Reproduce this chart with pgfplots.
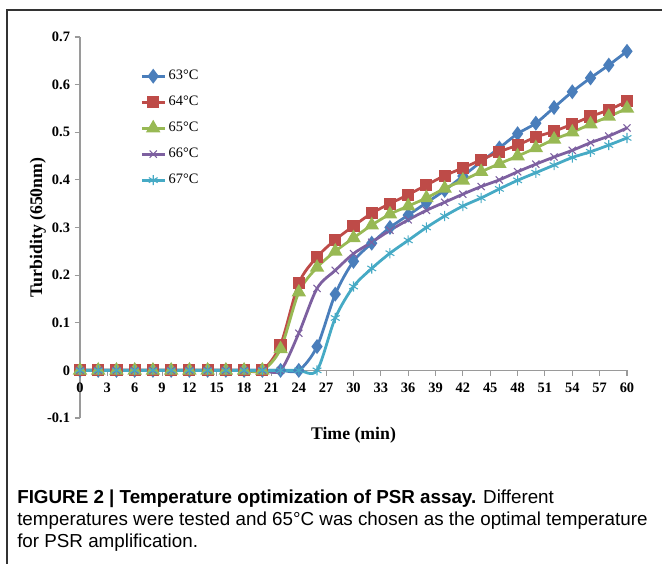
\documentclass[border=0pt]{standalone}
\usepackage{fontspec}
\setmainfont{Liberation Serif}
\newfontfamily\capfont{Liberation Sans}
\usepackage{pgfplots}
\usepackage{pgfplotstable}
\pgfplotsset{compat=1.18}
\definecolor{cA}{HTML}{4A7EBB}
\definecolor{cB}{HTML}{BE4B48}
\definecolor{cC}{HTML}{98B954}
\definecolor{cD}{HTML}{7D60A0}
\definecolor{cE}{HTML}{46AAC5}
\definecolor{axgray}{HTML}{9A9A9A}
\pgfplotstableread{
t  a     b     c     d     e
0  0     0     0     0     0
2  0     0     0     0     0
4  0     0     0     0     0
6  0     0     0     0     0
8  0     0     0     0     0
10 0     0     0     0     0
12 0     0     0     0     0
14 0     0     0     0     0
16 0     0     0     0     0
18 0     0     0     0     0
20 0     0     0     0     0
22 0     0.054 0.045 0.0   0
24 0     0.183 0.164 0.078 0
26 0.050 0.238 0.216 0.172 0
28 0.160 0.274 0.250 0.210 0.110
30 0.229 0.303 0.278 0.245 0.176
32 0.267 0.330 0.305 0.269 0.214
34 0.300 0.350 0.328 0.294 0.246
36 0.326 0.369 0.345 0.316 0.273
38 0.352 0.389 0.362 0.336 0.300
40 0.378 0.409 0.382 0.353 0.324
42 0.408 0.425 0.399 0.370 0.345
44 0.438 0.442 0.417 0.386 0.362
46 0.467 0.459 0.434 0.400 0.381
48 0.497 0.473 0.450 0.417 0.399
50 0.519 0.490 0.467 0.433 0.415
52 0.552 0.502 0.485 0.448 0.431
54 0.585 0.517 0.500 0.462 0.447
56 0.614 0.533 0.517 0.478 0.459
58 0.641 0.547 0.533 0.492 0.473
60 0.670 0.565 0.550 0.509 0.488
}\datatable
\begin{document}
\begin{tikzpicture}
\path[use as bounding box] (0,0) rectangle (496.5pt,-423pt);
\draw[line width=0.8pt, black!80] (5.25pt,-7.5pt) rectangle (505pt,-440pt);
\begin{axis}[
  at={(60pt,-27.75pt)}, anchor=north west,
  scale only axis, width=410.25pt, height=285.75pt,
  xmin=0, xmax=60, ymin=-0.1, ymax=0.7,
  axis x line=middle, axis y line=left,
  hide obscured x ticks=false,
  axis line style={-, axgray, line width=0.8pt},
  tick style={axgray, line width=0.8pt},
  tick align=outside,
  major tick length=4pt,
  xtick={0,3,...,60},
  ytick={-0.1,0,0.1,0.2,0.3,0.4,0.5,0.6,0.7},
  /pgf/number format/assume math mode=true,
  /pgf/number format/fixed,
  /pgf/number format/precision=1,
  ticklabel style={font=\bfseries\fontsize{10.8}{12}\selectfont, black},
  xticklabel style={yshift=-2pt},
  xlabel={Time (min)},
  ylabel={Turbidity (650nm)},
  label style={font=\bfseries\fontsize{13.3}{15}\selectfont},
  xlabel style={at={(axis description cs:0.5,0)}, anchor=north, yshift=-3pt},
  ylabel style={at={(axis description cs:-0.077,0.5)}, anchor=center, rotate=0},
  legend style={draw=none, fill=none, at={(axis description cs:0.11,0.92)}, anchor=north west,
    font=\fontsize{10.8}{12}\selectfont, row sep=6.8pt, inner sep=0pt},
  legend cell align=left,
  every axis plot/.append style={line width=2.1pt, smooth, tension=0.5},
  clip=false,
]
\addplot[cA, mark=diamond*, mark size=3.9pt] table[x=t,y=a]{\datatable};
\addplot[cB, mark=square*, mark size=3.5pt] table[x=t,y=b]{\datatable};
\addplot[cC, mark=triangle*, mark size=4.2pt] table[x=t,y=c]{\datatable};
\addplot[cD, mark=x, mark size=3.8pt, mark options={line width=0.8pt}] table[x=t,y=d]{\datatable};
\addplot[cE, mark=asterisk, mark size=3.8pt, mark options={line width=0.8pt}] table[x=t,y=e]{\datatable};
\legend{63°C,64°C,65°C,66°C,67°C}
\end{axis}
\node[anchor=base west, inner sep=0pt, font=\capfont\fontsize{14.1}{16}\selectfont] at (12.75pt,-377.25pt)
  {\textbf{FIGURE 2 | Temperature optimization of PSR assay.} Different};
\node[anchor=base west, inner sep=0pt, font=\capfont\fontsize{14.1}{16}\selectfont] at (12.75pt,-393.75pt)
  {temperatures were tested and 65°C was chosen as the optimal temperature};
\node[anchor=base west, inner sep=0pt, font=\capfont\fontsize{14.1}{16}\selectfont] at (12.75pt,-410.25pt)
  {for PSR amplification.};
\end{tikzpicture}
\end{document}
